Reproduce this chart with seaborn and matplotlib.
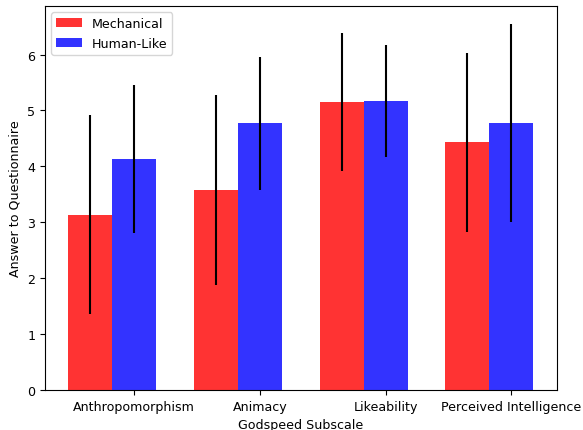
import numpy as np
import pandas as pd
import matplotlib
matplotlib.use("Agg")
import matplotlib.pyplot as plt
import seaborn as sns

subscales = ["Anthropomorphism", "Animacy", "Likeability", "Perceived Intelligence"]
conditions = ["Mechanical", "Human-Like"]

mechanical_mean = [3.13, 3.57, 5.15, 4.43]
mechanical_err = [1.78, 1.70, 1.23, 1.60]
humanlike_mean = [4.13, 4.77, 5.17, 4.77]
humanlike_err = [1.33, 1.19, 1.00, 1.77]

colors = ["red", "blue"]
bar_width = 0.35

plt.rcParams["font.size"] = 9.1

df = pd.DataFrame({
    "subscale": subscales * 2,
    "condition": [conditions[0]] * 4 + [conditions[1]] * 4,
    "score": mechanical_mean + humanlike_mean,
})
errs = {conditions[0]: mechanical_err, conditions[1]: humanlike_err}

fig, ax = plt.subplots(figsize=(5.83, 4.31), dpi=100)
fig.subplots_adjust(left=0.077, right=0.955, bottom=0.093, top=0.984)

sns.barplot(data=df, x="subscale", y="score", hue="condition",
            order=subscales, hue_order=conditions, palette=colors,
            saturation=1, alpha=0.8, width=2 * bar_width, errorbar=None,
            linewidth=0, ax=ax)

# error bars on the bar centres, no caps
for cond, cont in zip(conditions, ax.containers):
    xs = [p.get_x() + p.get_width() / 2 for p in cont.patches]
    hs = [p.get_height() for p in cont.patches]
    ax.errorbar(xs, hs, yerr=errs[cond], fmt="none", ecolor="black", capsize=0)

idx = np.arange(len(subscales))
ax.set_xticks(idx + bar_width / 2, subscales)
ax.set_xlim(-0.535, 3.535)
ax.set_ylim(0, 6.87)

ax.set_xlabel("Godspeed Subscale")
ax.set_ylabel("Answer to Questionnaire")
ax.legend(ax.containers, conditions, loc="upper left")

fig.savefig("out.png", dpi=100)
